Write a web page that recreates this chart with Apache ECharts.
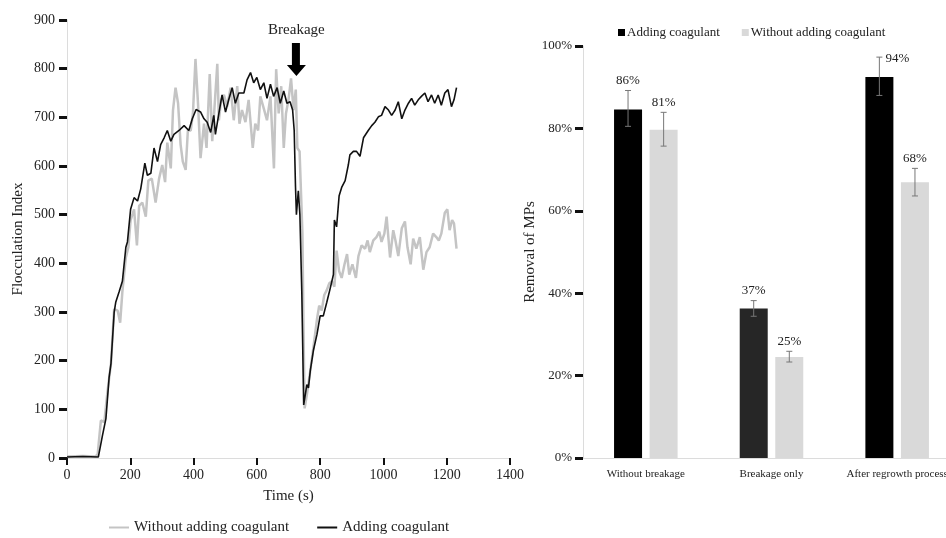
<!DOCTYPE html>
<html>
<head>
<meta charset="utf-8">
<script src="https://cdn.jsdelivr.net/npm/echarts@6/dist/echarts.min.js"></script>
<style>
  html, body { margin: 0; padding: 0; background: #fff; }
  #main { width: 946px; height: 538px; }
</style>
</head>
<body>
<div id="main"></div>
<script>
// left panel: flocculation index vs time
const tAdd = [0, 50, 99, 112, 123, 133, 139, 149, 154, 165, 175, 186, 191, 201, 212, 223, 233, 246, 254, 265, 275, 286, 296, 307, 317, 328, 338, 354, 370, 385, 396, 408, 422, 433, 443, 454, 464, 469, 480, 490, 501, 511, 522, 532, 543, 559, 569, 580, 590, 600, 611, 622, 632, 643, 653, 664, 674, 685, 695, 705, 713, 718, 722, 725, 731, 736, 742, 748, 753, 758, 763, 769, 779, 790, 800, 810, 821, 832, 842, 845, 852, 860, 868, 879, 889, 894, 905, 915, 926, 937, 942, 952, 963, 973, 984, 994, 1005, 1016, 1026, 1037, 1047, 1058, 1068, 1079, 1089, 1099, 1110, 1120, 1131, 1141, 1152, 1162, 1173, 1183, 1194, 1204, 1215, 1223, 1231]
const vAdd = [2, 3, 2, 46, 81, 165, 194, 299, 320, 342, 363, 433, 444, 511, 535, 528, 553, 606, 581, 585, 637, 609, 644, 658, 673, 651, 665, 673, 683, 673, 697, 716, 711, 697, 690, 669, 704, 665, 708, 746, 711, 736, 761, 729, 750, 750, 777, 792, 771, 782, 757, 771, 739, 768, 743, 761, 729, 754, 729, 732, 715, 673, 560, 500, 549, 500, 342, 109, 113, 151, 144, 180, 222, 254, 292, 292, 320, 349, 377, 489, 475, 539, 556, 570, 602, 623, 630, 630, 620, 658, 654, 673, 683, 690, 701, 704, 722, 715, 704, 715, 732, 697, 715, 729, 739, 725, 736, 743, 750, 732, 746, 729, 746, 725, 750, 757, 722, 736, 761]

const tNo = [0, 50, 90, 97, 107, 118, 128, 139, 149, 160, 168, 175, 186, 194, 201, 212, 221, 228, 238, 249, 257, 268, 280, 291, 301, 310, 317, 328, 335, 343, 351, 359, 366, 375, 382, 391, 398, 406, 414, 422, 433, 441, 451, 459, 467, 475, 480, 487, 496, 506, 517, 527, 538, 545, 553, 564, 574, 587, 595, 604, 611, 622, 632, 643, 654, 661, 669, 677, 685, 692, 700, 708, 716, 723, 728, 735, 740, 744, 748, 751, 758, 769, 779, 790, 797, 805, 813, 821, 829, 837, 845, 852, 860, 868, 877, 885, 892, 902, 913, 921, 931, 942, 950, 957, 968, 978, 987, 994, 1003, 1010, 1021, 1031, 1038, 1047, 1058, 1068, 1076, 1086, 1094, 1104, 1115, 1126, 1136, 1146, 1157, 1167, 1175, 1183, 1194, 1202, 1209, 1217, 1223, 1231]
const vNo = [3, 4, 3, 8, 77, 74, 137, 194, 306, 303, 278, 342, 412, 433, 489, 511, 437, 518, 525, 496, 570, 574, 525, 574, 602, 567, 648, 595, 715, 761, 729, 644, 609, 592, 673, 673, 708, 820, 729, 616, 687, 637, 789, 651, 729, 810, 694, 736, 746, 722, 761, 694, 764, 687, 715, 690, 736, 637, 687, 673, 743, 718, 694, 743, 595, 799, 708, 764, 637, 708, 736, 780, 715, 757, 637, 630, 630, 461, 236, 102, 130, 180, 229, 285, 313, 303, 335, 345, 359, 363, 352, 426, 384, 370, 398, 419, 377, 398, 370, 415, 437, 430, 447, 423, 447, 454, 465, 444, 461, 496, 412, 468, 447, 415, 472, 486, 433, 398, 451, 430, 454, 387, 423, 433, 461, 454, 447, 461, 504, 511, 468, 489, 482, 430]

// right panel: removal of MPs (%)
const categories = ['Without breakage', 'Breakage only', 'After regrowth process']
const addVals = [84.6, 36.3, 92.5]
const addLow = [80.5, 34.4, 88.0]
const addHigh = [89.2, 38.2, 97.3]
const addLabels = ['86%', '37%', '94%']
const noVals = [79.7, 24.5, 66.9]
const noLow = [75.7, 23.3, 63.6]
const noHigh = [83.9, 25.9, 70.3]
const noLabels = ['81%', '25%', '68%']

const FONT = 'Liberation Serif'
const TXT = '#222'
const zip = (a, b) => a.map((v, i) => [v, b[i]])

const chart = echarts.init(document.getElementById('main'))

// error bar + value label, shifted left/right from the category centre
const errorBar = (low, high, labels, shift) => (params, api) => {
  const i = params.dataIndex
  const top = api.coord([i, high[i]])
  const bot = api.coord([i, low[i]])
  const x = top[0] + shift
  const cap = 3
  const st = { stroke: '#777', lineWidth: 1 }
  let lx = x
  let ly = top[1] - 10
  if (labels[i] === '94%') { lx = x + 18; ly = top[1] + 1 }
  return {
    type: 'group',
    children: [
      { type: 'line', shape: { x1: x, y1: top[1], x2: x, y2: bot[1] }, style: st },
      { type: 'line', shape: { x1: x - cap, y1: top[1], x2: x + cap, y2: top[1] }, style: st },
      { type: 'line', shape: { x1: x - cap, y1: bot[1], x2: x + cap, y2: bot[1] }, style: st },
      {
        type: 'text',
        x: lx,
        y: ly,
        style: { text: labels[i], fill: TXT, font: '13px ' + FONT, align: 'center', verticalAlign: 'middle' }
      }
    ]
  }
}

const option = {
  backgroundColor: '#fff',
  textStyle: { fontFamily: FONT, color: TXT },
  animation: false,
  legend: [
    {
      data: ['Without adding coagulant', 'Adding coagulant'],
      left: 104,
      top: 515,
      icon: 'rect',
      itemWidth: 20,
      itemHeight: 2,
      itemGap: 28,
      textStyle: { fontFamily: FONT, fontSize: 15, color: TXT }
    },
    {
      data: ['bar:Adding coagulant', 'bar:Without adding coagulant'],
      left: 613,
      top: 21,
      icon: 'rect',
      itemWidth: 7,
      itemHeight: 7,
      itemGap: 22,
      formatter: n => n.slice(4),
      textStyle: { fontFamily: FONT, fontSize: 13, color: TXT, padding: [0, 0, 0, -3] }
    }
  ],
  grid: [
    { left: 67, width: 443, top: 20, bottom: 80, outerBoundsMode: 'none' },
    { left: 583, width: 377, top: 46, bottom: 80, outerBoundsMode: 'none' }
  ],
  xAxis: [
    {
      type: 'value',
      gridIndex: 0,
      min: 0,
      max: 1400,
      interval: 200,
      name: 'Time (s)',
      nameLocation: 'middle',
      nameGap: 31,
      nameTextStyle: { fontFamily: FONT, fontSize: 15, color: TXT },
      splitLine: { show: false },
      axisLine: { lineStyle: { color: '#dcdcdc', width: 1 } },
      axisTick: { length: 7, lineStyle: { color: '#111', width: 2 } },
      axisLabel: { fontFamily: FONT, fontSize: 14, color: TXT, margin: 10, formatter: v => String(v) }
    },
    {
      type: 'category',
      gridIndex: 1,
      data: categories,
      axisLine: { lineStyle: { color: '#dcdcdc', width: 1 } },
      axisTick: { show: false },
      axisLabel: { fontFamily: FONT, fontSize: 11, color: TXT, margin: 11, interval: 0 }
    }
  ],
  yAxis: [
    {
      type: 'value',
      gridIndex: 0,
      min: 0,
      max: 900,
      interval: 100,
      name: 'Flocculation Index',
      nameLocation: 'middle',
      nameGap: 41,
      nameTextStyle: { fontFamily: FONT, fontSize: 15, color: TXT },
      splitLine: { show: false },
      axisLine: { show: true, lineStyle: { color: '#dcdcdc', width: 1 } },
      axisTick: { show: true, length: 8, lineStyle: { color: '#111', width: 3 } },
      axisLabel: { fontFamily: FONT, fontSize: 14, color: TXT, margin: 12 }
    },
    {
      type: 'value',
      gridIndex: 1,
      min: 0,
      max: 100,
      interval: 20,
      name: 'Removal of MPs',
      nameLocation: 'middle',
      nameGap: 42,
      nameTextStyle: { fontFamily: FONT, fontSize: 15, color: TXT },
      splitLine: { show: false },
      axisLine: { show: true, lineStyle: { color: '#dcdcdc', width: 1 } },
      axisTick: { show: true, length: 8, lineStyle: { color: '#111', width: 3 } },
      axisLabel: { fontFamily: FONT, fontSize: 13, color: TXT, margin: 11, formatter: '{value}%' }
    }
  ],
  series: [
    {
      name: 'Without adding coagulant',
      type: 'line',
      xAxisIndex: 0,
      yAxisIndex: 0,
      data: zip(tNo, vNo),
      showSymbol: false,
      color: '#c4c4c4',
      lineStyle: { color: '#c4c4c4', width: 2.5 }
    },
    {
      name: 'Adding coagulant',
      type: 'line',
      xAxisIndex: 0,
      yAxisIndex: 0,
      data: zip(tAdd, vAdd),
      showSymbol: false,
      color: '#111',
      lineStyle: { color: '#111', width: 1.6 },
      markPoint: {
        symbol: 'path://M5,0 L13,0 L13,22 L19,22 L9.5,33 L0,22 L5,22 Z',
        symbolSize: [19, 33],
        itemStyle: { color: '#000' },
        label: {
          show: true,
          position: 'top',
          distance: 5,
          formatter: 'Breakage',
          fontFamily: FONT,
          fontSize: 15,
          color: TXT
        },
        data: [{ coord: [725, 819] }]
      }
    },
    {
      name: 'bar:Adding coagulant',
      type: 'bar',
      xAxisIndex: 1,
      yAxisIndex: 1,
      barWidth: 28,
      barGap: '27%',
      color: '#000',
      data: addVals.map((v, i) => ({ value: v, itemStyle: { color: i === 1 ? '#262626' : '#000' } }))
    },
    {
      name: 'bar:Without adding coagulant',
      type: 'bar',
      xAxisIndex: 1,
      yAxisIndex: 1,
      barWidth: 28,
      color: '#d9d9d9',
      data: noVals
    },
    {
      type: 'custom',
      xAxisIndex: 1,
      yAxisIndex: 1,
      renderItem: errorBar(addLow, addHigh, addLabels, -17.8),
      data: addHigh.map((v, i) => [i, v]),
      z: 5
    },
    {
      type: 'custom',
      xAxisIndex: 1,
      yAxisIndex: 1,
      renderItem: errorBar(noLow, noHigh, noLabels, 17.8),
      data: noHigh.map((v, i) => [i, v]),
      z: 5
    }
  ]
}

chart.setOption(option)
</script>
</body>
</html>
